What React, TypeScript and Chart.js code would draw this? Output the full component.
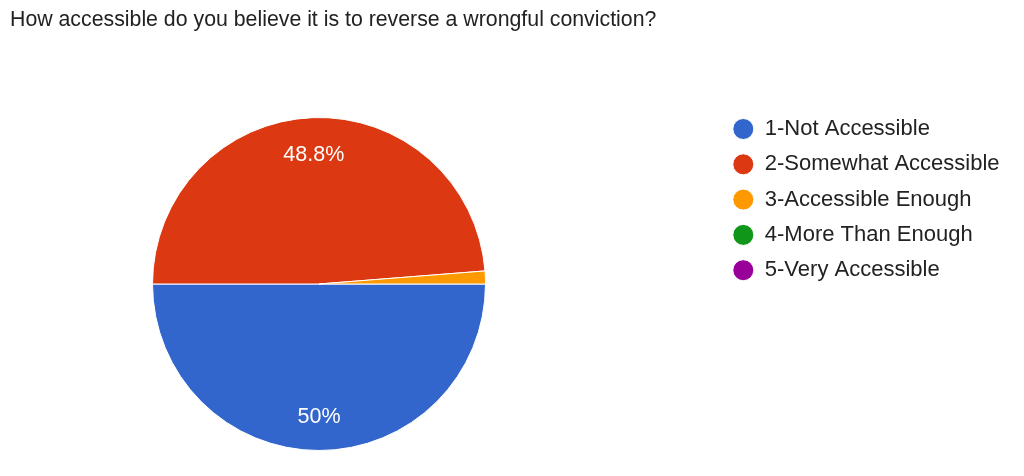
import React, { useEffect, useRef } from 'react';
import { Chart, registerables } from 'chart.js';

Chart.register(...registerables);

const TITLE = 'How accessible do you believe it is to reverse a wrongful conviction?';
const categories = [
  '1-Not Accessible',
  '2-Somewhat Accessible',
  '3-Accessible Enough',
  '4-More Than Enough',
  '5-Very Accessible',
];
const responses = [40, 39, 1, 0, 0];
const sliceColors = ['#3366cc', '#dc3912', '#ff9900', '#109618', '#990099'];

const FONT = "'Liberation Sans', Arial, Helvetica, sans-serif";
const TEXT_COLOR = '#222222';

// Places the title and legend blocks where the reference has them.
const placeBlocks = {
  id: 'placeBlocks',
  afterLayout(chart: any) {
    const t = chart.titleBlock;
    if (t) {
      t.left = 10;
      t.right = 1014;
      t.width = 1004;
    }
    const lg = chart.legend;
    if (lg) {
      const w = lg.width;
      lg.left = 719.5;
      lg.right = 719.5 + w;
      lg.top = 104.7;
      lg.height = 360;
      lg.bottom = 104.7 + 360;
    }
  },
};

// White percentage labels inside the large slices.
const percentLabels = {
  id: 'percentLabels',
  afterDatasetsDraw(chart: any) {
    const ctx = chart.ctx;
    const meta = chart.getDatasetMeta(0);
    const vals = chart.data.datasets[0].data as number[];
    const total = vals.reduce((a, b) => a + b, 0);
    ctx.save();
    ctx.font = `21.5px ${FONT}`;
    ctx.fillStyle = '#ffffff';
    ctx.textAlign = 'center';
    ctx.textBaseline = 'middle';
    meta.data.forEach((arc: any, i: number) => {
      const share = (vals[i] / total) * 100;
      if (share < 5) return;
      const { x, y, startAngle, endAngle, outerRadius } = arc.getProps(
        ['x', 'y', 'startAngle', 'endAngle', 'outerRadius'],
        true
      );
      const mid = (startAngle + endAngle) / 2;
      const r = outerRadius * 0.787;
      const txt = (Math.round(share * 10) / 10).toString() + '%';
      ctx.fillText(txt, x + Math.cos(mid) * r, y + Math.sin(mid) * r + 2.4);
    });
    ctx.restore();
  },
};

export default function App() {
  const ref = useRef<HTMLCanvasElement>(null);

  useEffect(() => {
    if (!ref.current) return;
    const chart = new Chart(ref.current, {
      type: 'pie',
      data: {
        labels: categories,
        datasets: [
          {
            data: responses,
            backgroundColor: sliceColors,
            borderColor: '#ffffff',
            borderWidth: 1,
          },
        ],
      },
      options: {
        animation: false,
        responsive: true,
        maintainAspectRatio: false,
        devicePixelRatio: 1,
        events: [],
        rotation: 90,
        layout: { padding: { left: 10, right: 396, top: 0, bottom: 25 } },
        plugins: {
          tooltip: { enabled: false },
          title: {
            display: true,
            text: TITLE,
            align: 'start',
            color: TEXT_COLOR,
            font: { family: FONT, size: 21.3, weight: 'normal', lineHeight: 1.2 },
            padding: { top: 7, bottom: 84.44 },
          },
          legend: {
            display: true,
            position: 'chartArea',
            align: 'start',
            labels: {
              usePointStyle: true,
              pointStyle: 'circle',
              pointStyleWidth: 21,
              boxHeight: 21 / Math.SQRT2,
              padding: 13.3,
              color: TEXT_COLOR,
              font: { family: FONT, size: 22 },
            },
          },
        },
      } as any,
      plugins: [placeBlocks, percentLabels],
    });
    return () => chart.destroy();
  }, []);

  return (
    <div
      style={{
        position: 'absolute',
        left: 0,
        top: 0,
        width: 1024,
        height: 476,
        background: '#ffffff',
      }}
    >
      <canvas ref={ref} />
    </div>
  );
}
